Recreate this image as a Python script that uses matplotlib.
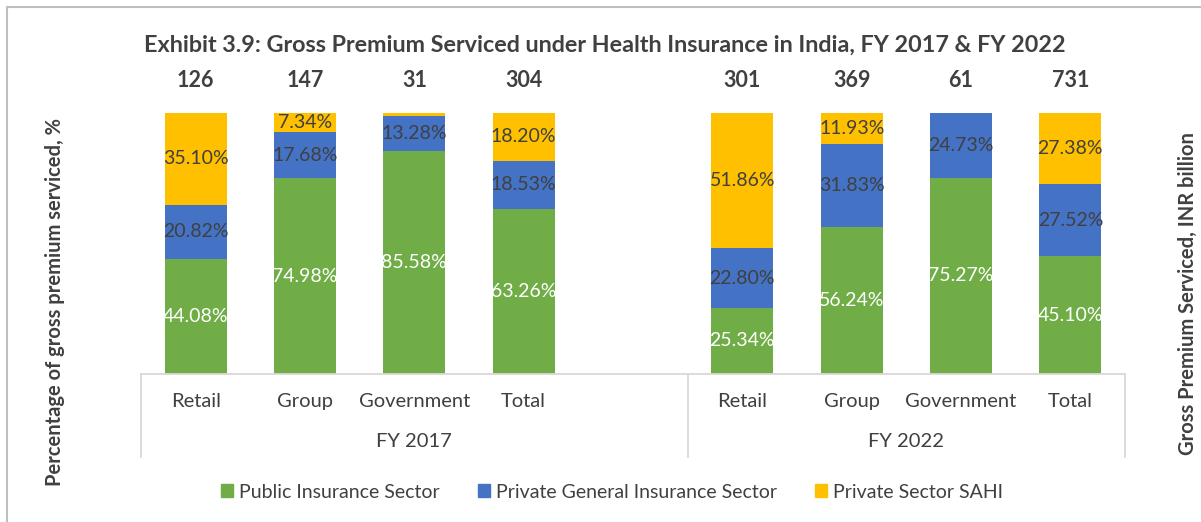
import matplotlib.pyplot as plt
import matplotlib.transforms as mtransforms
from matplotlib.patches import Patch
from matplotlib.lines import Line2D

plt.rcParams['font.family'] = ['Lato', 'DejaVu Sans']

categories = ['Retail', 'Group', 'Government', 'Total']
years = ['FY 2017', 'FY 2022']
series = ['Public Insurance Sector', 'Private General Insurance Sector', 'Private Sector SAHI']

public_2017 = [44.08, 74.98, 85.58, 63.26]
private_2017 = [20.82, 17.68, 13.28, 18.53]
sahi_2017 = [35.10, 7.34, 1.14, 18.20]

public_2022 = [25.34, 56.24, 75.27, 45.10]
private_2022 = [22.80, 31.83, 24.73, 27.52]
sahi_2022 = [51.86, 11.93, 0.0, 27.38]

totals_2017 = [126, 147, 31, 304]
totals_2022 = [301, 369, 61, 731]

colors = ['#70AD47', '#4472C4', '#FFC000']
label_colors = ['white', '#404040', '#404040']
dark = '#404040'
grid = '#D9D9D9'

fig = plt.figure(figsize=(12.01, 5.22), dpi=100)
ax = fig.add_axes([141 / 1201, 1 - 374 / 522, (1125 - 141) / 1201, 261 / 522])

groups = [
    (public_2017, private_2017, sahi_2017, totals_2017),
    (public_2022, private_2022, sahi_2022, totals_2022),
]
width = 0.57
trans = mtransforms.blended_transform_factory(ax.transData, ax.transAxes)

for g, (pub, priv, sahi, tot) in enumerate(groups):
    xs = [g * 5 + i for i in range(len(categories))]
    bottom = [0] * len(xs)
    for k, vals in enumerate([pub, priv, sahi]):
        ax.bar(xs, vals, width, bottom=bottom, color=colors[k], edgecolor='none')
        for x, b, v in zip(xs, bottom, vals):
            if v >= 5:
                ax.text(x, b + v / 2, f'{v:.2f}%', ha='center', va='center',
                        color=label_colors[k], fontsize=14)
        bottom = [b + v for b, v in zip(bottom, vals)]
    for x, t, c in zip(xs, tot, categories):
        ax.text(x, 1.125, str(t), transform=trans, ha='center', va='center',
                fontsize=15.5, fontweight='bold', color=dark)
        ax.text(x, -0.107, c, transform=trans, ha='center', va='center',
                fontsize=14.5, color=dark)

# group labels and separators under the axis
ax.text(2, -0.258, years[0], transform=trans, ha='center', va='center', fontsize=14.5, color=dark)
ax.text(6.5, -0.258, years[1], transform=trans, ha='center', va='center', fontsize=14.5, color=dark)
for xv in [-0.5, 4.5, 8.5]:
    ax.add_line(Line2D([xv, xv], [0, -0.318], transform=trans, color=grid, lw=1.3, clip_on=False))

ax.set_xlim(-0.5, 8.5)
ax.set_ylim(0, 100)
ax.set_xticks([])
ax.set_yticks([])
for s in ['top', 'left', 'right']:
    ax.spines[s].set_visible(False)
ax.spines['bottom'].set_color(grid)
ax.spines['bottom'].set_linewidth(1.3)

fig.text(605 / 1201, 1 - 45 / 522,
         'Exhibit 3.9: Gross Premium Serviced under Health Insurance in India, FY 2017 & FY 2022',
         ha='center', va='center', fontsize=16.8, fontweight='bold', color=dark)
fig.text(55 / 1201, 1 - 302 / 522, 'Percentage of gross premium serviced, %', rotation=90,
         ha='center', va='center', fontsize=14.5, fontweight='bold', color=dark)
fig.text(1188 / 1201, 1 - 294 / 522, 'Gross Premium Serviced, INR billion', rotation=90,
         ha='center', va='center', fontsize=14.5, fontweight='bold', color=dark)

handles = [Patch(color=c, label=s) for c, s in zip(colors, series)]
fig.legend(handles=handles, loc='center', bbox_to_anchor=(612 / 1201, 1 - 492 / 522), ncol=3,
           frameon=False, fontsize=14, handlelength=0.6, handleheight=0.6,
           handletextpad=0.3, columnspacing=2.0, labelcolor=dark)

# chart frame (left and top edges visible)
fig.add_artist(Line2D([7 / 1201, 7 / 1201], [0, 1 - 7 / 522], transform=fig.transFigure, color='#BFBFBF', lw=1.5))
fig.add_artist(Line2D([7 / 1201, 1], [1 - 7 / 522, 1 - 7 / 522], transform=fig.transFigure, color='#BFBFBF', lw=1.5))

fig.savefig('out.png', dpi=100, facecolor='white')
